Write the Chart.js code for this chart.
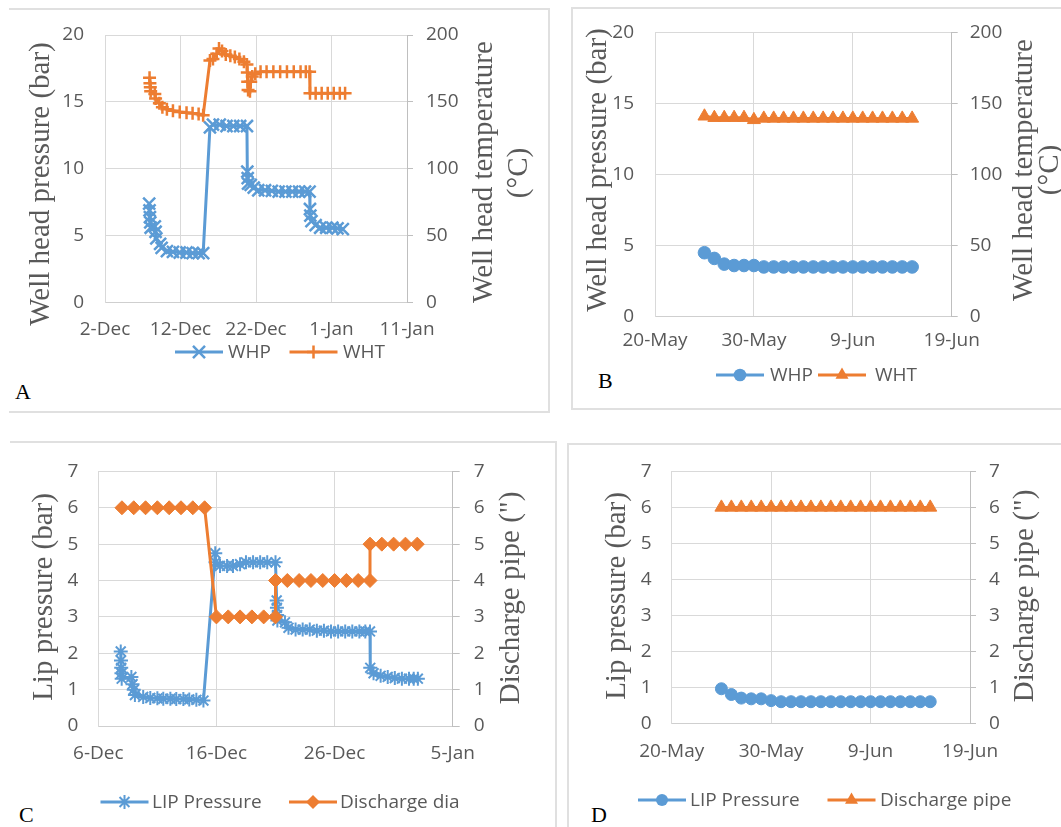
<!DOCTYPE html>
<html><head><meta charset="utf-8">
<script src="https://cdn.jsdelivr.net/npm/chart.js@4.4.0/dist/chart.umd.min.js"></script>
<style>
html,body{margin:0;padding:0;background:#fff;width:1061px;height:827px;overflow:hidden;position:relative;}
canvas{position:absolute;}
.frame{position:absolute;border:0 solid #E0E0E0;box-sizing:border-box;}
.lab{position:absolute;font-family:"Liberation Serif",serif;font-size:22px;color:#000;line-height:22px;}
</style></head><body>
<div class="frame" style="left:9px;top:8px;width:541px;height:405px;border-top-width:2px;border-right-width:2px;border-bottom-width:2px"></div>
<div class="frame" style="left:571px;top:7px;width:500px;height:403px;border-top-width:2px;border-left-width:2px;border-bottom-width:2px"></div>
<div class="frame" style="left:10px;top:441px;width:547px;height:400px;border-top-width:2px;border-right-width:2px"></div>
<div class="frame" style="left:567px;top:443px;width:500px;height:400px;border-top-width:2px;border-left-width:2px"></div>
<div class="lab" style="left:15px;top:381px">A</div>
<div class="lab" style="left:598px;top:370px">B</div>
<div class="lab" style="left:19px;top:804px">C</div>
<div class="lab" style="left:591px;top:804px">D</div>
<script>
// ---------- data (x values are day numbers: Dec 1 = 1, Jan 1 = 32; May 1 = 1, Jun 1 = 32) ----------
// Panel A
const A_X_TICKS = [2, 12, 22, 32, 42];
const A_X_LABELS = ['2-Dec', '12-Dec', '22-Dec', '1-Jan', '11-Jan'];
const A_WHP_DAY = [7.85, 7.9, 7.95, 8.0, 8.05, 8.6, 8.7, 8.8, 9.3, 9.5, 10.2, 11.0, 11.9, 12.8, 13.6, 14.4, 15.0,
  15.9, 16.3, 17.2, 18.1, 19.0, 19.9, 20.8, 20.85, 20.9, 20.95, 21.3, 21.7, 22.3, 23.2, 24.1, 25.0, 25.9, 26.8, 27.7, 28.5, 29.1,
  29.15, 29.2, 29.35, 29.9, 30.5, 31.3, 32.1, 32.8, 33.5];
const A_WHP = [7.4, 6.9, 6.4, 6.0, 5.6, 5.7, 5.3, 4.8, 4.4, 4.1, 3.85, 3.8, 3.75, 3.75, 3.7, 3.7, 3.7,
  13.1, 13.3, 13.3, 13.2, 13.2, 13.2, 13.2, 9.8, 9.3, 8.9, 8.8, 8.6, 8.4, 8.4, 8.35, 8.3, 8.3, 8.3, 8.3, 8.3, 8.3,
  7.0, 6.5, 6.1, 5.8, 5.6, 5.6, 5.6, 5.55, 5.5];
const A_WHT_DAY = [7.9, 7.95, 8.0, 8.05, 8.6, 8.7, 9.2, 9.6, 10.2, 11.0, 11.9, 12.8, 13.6, 14.4, 15.0,
  15.9, 16.3, 16.8, 17.1, 17.5, 18.0, 18.6, 19.2, 19.8, 20.4, 20.8, 20.85, 20.9, 20.95, 21.2, 21.3, 21.5, 21.9,
  22.6, 23.4, 24.3, 25.2, 26.1, 27.0, 27.9, 28.6, 29.1, 29.15, 29.9, 30.7, 31.5, 32.3, 33.1, 33.8];
const A_WHT = [168, 164, 161, 158, 156, 152.5, 149, 146, 144.5, 143.5, 142.5, 142, 141.5, 141, 140,
  181, 182, 186, 190, 188, 185.5, 184.5, 183.5, 182, 180, 178, 172, 165, 159, 158, 165, 169, 171,
  172.5, 172.5, 172.5, 172.5, 172.5, 172.5, 172.5, 172.5, 172.5, 156.5, 156.5, 156.5, 156.5, 156.5, 156.5, 156.5];
// Panel B
const B_X_TICKS = [20, 30, 40, 50];
const B_X_LABELS = ['20-May', '30-May', '9-Jun', '19-Jun'];
const B_DAY = [25, 26, 27, 28, 29, 30, 31, 32, 33, 34, 35, 36, 37, 38, 39, 40, 41, 42, 43, 44, 45, 46];
const B_WHP = [4.5, 4.1, 3.7, 3.6, 3.6, 3.6, 3.5, 3.5, 3.5, 3.5, 3.5, 3.5, 3.5, 3.5, 3.5, 3.5, 3.5, 3.5, 3.5, 3.5, 3.5, 3.5];
const B_WHT = [141, 140, 140, 140, 140, 138.5, 139.5, 139.5, 139.5, 139.5, 139.5, 139.5, 139.5, 139.5, 139.5, 139.5, 139.5, 139.5, 139.5, 139.5, 139.5, 139.5];
// Panel C
const C_X_TICKS = [6, 16, 26, 36];
const C_X_LABELS = ['6-Dec', '16-Dec', '26-Dec', '5-Jan'];
const C_LIP_DAY = [7.9, 7.92, 7.94, 7.96, 7.98, 8.8, 8.9, 9.0, 9.1, 9.8, 10.4, 11.0, 11.5, 12.1, 12.6, 13.2, 13.7, 14.3, 14.9,
  15.9, 15.92, 16.3, 16.9, 17.4, 18.0, 18.5, 19.1, 19.7, 20.3, 21.0, 21.1, 21.12, 21.14, 21.16,
  21.8, 22.1, 22.7, 23.3, 23.9, 24.5, 25.1, 25.7, 26.3, 26.9, 27.5, 28.1, 28.6, 29.0,
  29.02, 29.3, 29.9, 30.5, 31.1, 31.7, 32.3, 32.7, 33.05];
const C_LIP = [2.05, 1.8, 1.6, 1.45, 1.3, 1.35, 1.15, 1.0, 0.85, 0.8, 0.77, 0.76, 0.75, 0.75, 0.74, 0.74, 0.73, 0.72, 0.7,
  4.75, 4.5, 4.4, 4.4, 4.4, 4.45, 4.5, 4.5, 4.5, 4.5, 4.5, 3.45, 3.25, 3.05, 2.9,
  2.85, 2.7, 2.65, 2.65, 2.65, 2.62, 2.62, 2.6, 2.6, 2.6, 2.6, 2.6, 2.6, 2.6,
  1.6, 1.45, 1.38, 1.35, 1.32, 1.3, 1.3, 1.3, 1.3];
const C_DIS_DAY = [8, 9, 10, 11, 12, 13, 14, 15, 16, 17, 18, 19, 20, 21, 21, 22, 23, 24, 25, 26, 27, 28, 29, 29, 30, 31, 32, 33];
const C_DIS = [6, 6, 6, 6, 6, 6, 6, 6, 3, 3, 3, 3, 3, 3, 4, 4, 4, 4, 4, 4, 4, 4, 4, 5, 5, 5, 5, 5];
// Panel D
const D_X_TICKS = [20, 30, 40, 50];
const D_X_LABELS = ['20-May', '30-May', '9-Jun', '19-Jun'];
const D_DAY = [25, 26, 27, 28, 29, 30, 31, 32, 33, 34, 35, 36, 37, 38, 39, 40, 41, 42, 43, 44, 45, 46];
const D_LIP = [0.96, 0.8, 0.7, 0.68, 0.68, 0.63, 0.6, 0.6, 0.6, 0.6, 0.6, 0.6, 0.6, 0.6, 0.6, 0.6, 0.6, 0.6, 0.6, 0.6, 0.6, 0.6];
const D_DIS = [6, 6, 6, 6, 6, 6, 6, 6, 6, 6, 6, 6, 6, 6, 6, 6, 6, 6, 6, 6, 6, 6];

// ---------- styling ----------
const BLUE = '#5B9BD5', ORANGE = '#ED7D31', GRID = '#D9D9D9', AXIS = '#BFBFBF', TXT = '#595959';
const SANS = '"Open Sans"';
const TICK_FONT = {family: SANS, size: 19};
Chart.defaults.font.family = SANS;

function pts(xs, ys) { return xs.map((x, i) => ({x: x, y: ys[i]})); }

function drawMarker(g, style, x, y, r, color, bw) {
  g.save(); g.strokeStyle = color; g.fillStyle = color; g.lineWidth = bw; g.beginPath();
  const k = Math.SQRT1_2 * r;
  if (style === 'cross' || style === 'star') { g.moveTo(x - r, y); g.lineTo(x + r, y); g.moveTo(x, y - r); g.lineTo(x, y + r); }
  if (style === 'crossRot' || style === 'star') { g.moveTo(x - k, y - k); g.lineTo(x + k, y + k); g.moveTo(x - k, y + k); g.lineTo(x + k, y - k); }
  if (style === 'cross' || style === 'crossRot' || style === 'star') { g.stroke(); }
  else if (style === 'rectRot') { g.moveTo(x - r, y); g.lineTo(x, y - r); g.lineTo(x + r, y); g.lineTo(x, y + r); g.closePath(); g.fill(); }
  else if (style === 'circle') { g.arc(x, y, r, 0, Math.PI * 2); g.fill(); }
  else if (style === 'triangle') { g.moveTo(x, y - r); g.lineTo(x + 0.866 * r, y + 0.5 * r); g.lineTo(x - 0.866 * r, y + 0.5 * r); g.closePath(); g.fill(); }
  g.restore();
}

function makeChart(cfg) {
  const cv = document.createElement('canvas');
  cv.width = cfg.w; cv.height = cfg.h;
  cv.style.left = cfg.left + 'px'; cv.style.top = cfg.top + 'px';
  cv.style.width = cfg.w + 'px'; cv.style.height = cfg.h + 'px';
  document.body.appendChild(cv);
  const filled = m => (m === 'circle' || m === 'triangle' || m === 'rectRot');
  const datasets = cfg.series.map(s => ({
    label: s.label, data: pts(s.xs, s.ys), yAxisID: s.axis,
    borderColor: s.color, backgroundColor: s.color, borderWidth: 3,
    pointStyle: s.marker, pointRadius: s.r, pointHoverRadius: s.r,
    pointBorderWidth: filled(s.marker) ? 1 : s.pbw,
    pointBackgroundColor: s.color, pointBorderColor: s.color,
    tension: 0, order: s.order
  }));
  const decoPlugin = {
    id: 'deco',
    afterDraw(chart) {
      const ctx = chart.ctx;
      ctx.save();
      // axis titles (both read bottom-to-top, as in the reference)
      ctx.fillStyle = TXT; ctx.font = '29px "Liberation Serif"';
      ctx.textAlign = 'center'; ctx.textBaseline = 'middle';
      cfg.titles.forEach(t => {
        ctx.save(); ctx.translate(t.x, t.y); ctx.rotate(-Math.PI / 2); ctx.fillText(t.text, 0, 0); ctx.restore();
      });
      // legend: line + marker sample, then the series name
      ctx.font = '19px ' + SANS; ctx.textAlign = 'left';
      chart.data.datasets.forEach((d, i) => {
        const s = cfg.series[i], p = cfg.legend[i], y = cfg.legendY;
        ctx.save();
        ctx.strokeStyle = s.color; ctx.lineWidth = 3;
        ctx.beginPath(); ctx.moveTo(p.ix - 24, y); ctx.lineTo(p.ix + 24, y); ctx.stroke();
        ctx.restore();
        drawMarker(ctx, s.marker, p.ix, y, s.r, s.color, s.pbw);
        ctx.fillStyle = TXT;
        ctx.fillText(d.label, p.tx, y + 1);
      });
      ctx.restore();
    }
  };
  return new Chart(cv, {
    type: 'line',
    data: {datasets: datasets},
    options: {
      responsive: false, animation: false, devicePixelRatio: 1,
      layout: {padding: cfg.pad},
      plugins: {tooltip: {enabled: false}, legend: {display: false}},
      scales: {
        x: {
          type: 'linear', min: cfg.xTicks[0], max: cfg.xTicks[cfg.xTicks.length - 1],
          afterBuildTicks: sc => { sc.ticks = cfg.xTicks.map(v => ({value: v})); },
          ticks: {
            maxRotation: 0, autoSkip: false, padding: cfg.xPad, font: TICK_FONT, color: TXT,
            callback: v => { const i = cfg.xTicks.indexOf(v); return i >= 0 ? cfg.xLabels[i] : ''; }
          },
          grid: {color: GRID, drawTicks: false},
          border: {color: '#CFCFCF'},
          afterFit: sc => { sc.height = 45; }
        },
        y: {
          position: 'left', min: 0, max: cfg.yMax,
          ticks: {stepSize: cfg.yStep, padding: cfg.lPad, font: TICK_FONT, color: TXT},
          grid: {color: GRID, drawTicks: false},
          border: {color: GRID},
          afterFit: sc => { sc.width = cfg.lw; }
        },
        y2: {
          position: 'right', min: 0, max: cfg.y2Max,
          ticks: {stepSize: cfg.y2Step, padding: cfg.rPad, font: TICK_FONT, color: TXT},
          grid: {drawOnChartArea: false, color: AXIS, tickLength: cfg.tl},
          border: {color: AXIS},
          afterFit: sc => { sc.width = cfg.rw; }
        }
      }
    },
    plugins: [decoPlugin]
  });
}

// Panel A  (plot area 105..407 x 35..302.7)
makeChart({
  left: 0, top: 0, w: 560, h: 380,
  pad: {left: 0, right: 0, top: 35, bottom: 32.3},
  lw: 105, rw: 153, xPad: 15, lPad: 21, rPad: 13, tl: 6,
  xTicks: A_X_TICKS, xLabels: A_X_LABELS, yMax: 20, yStep: 5, y2Max: 200, y2Step: 50,
  series: [
    {label: 'WHP', xs: A_WHP_DAY, ys: A_WHP, axis: 'y', color: BLUE, marker: 'crossRot', r: 8.5, pbw: 2.5, order: 1},
    {label: 'WHT', xs: A_WHT_DAY, ys: A_WHT, axis: 'y2', color: ORANGE, marker: 'cross', r: 6.5, pbw: 2.5, order: 0}
  ],
  legendY: 352, legend: [{ix: 199, tx: 228}, {ix: 313.5, tx: 343}],
  titles: [
    {text: 'Well head pressure (bar)', x: 41, y: 184},
    {text: 'Well head temperature', x: 484, y: 172},
    {text: '(°C)', x: 519, y: 173}
  ]
});

// Panel B  (plot area 655..951.7 x 25.7..316.7)
makeChart({
  left: 572, top: 0, w: 489, h: 400,
  pad: {left: 0, right: 0, top: 25.7, bottom: 38.3},
  lw: 83, rw: 109.3, xPad: 12, lPad: 21, rPad: 12, tl: 6,
  xTicks: B_X_TICKS, xLabels: B_X_LABELS, yMax: 20, yStep: 5, y2Max: 200, y2Step: 50,
  series: [
    {label: 'WHP', xs: B_DAY, ys: B_WHP, axis: 'y', color: BLUE, marker: 'circle', r: 6.3, pbw: 1, order: 1},
    {label: 'WHT', xs: B_DAY, ys: B_WHT, axis: 'y2', color: ORANGE, marker: 'triangle', r: 7.5, pbw: 1, order: 0}
  ],
  legendY: 375, legend: [{ix: 168, tx: 198}, {ix: 270, tx: 303}],
  titles: [
    {text: 'Well head pressure (bar)', x: 26, y: 170},
    {text: 'Well head temperature', x: 452, y: 170},
    {text: '(°C)', x: 478, y: 170}
  ]
});

// Panel C  (plot area 98.3..452.7 x 469.3..726)
makeChart({
  left: 0, top: 440, w: 558, h: 387,
  pad: {left: 0, right: 0, top: 29.3, bottom: 56},
  lw: 98.3, rw: 105.3, xPad: 16, lPad: 20, rPad: 14, tl: 7,
  xTicks: C_X_TICKS, xLabels: C_X_LABELS, yMax: 7, yStep: 1, y2Max: 7, y2Step: 1,
  series: [
    {label: 'LIP Pressure', xs: C_LIP_DAY, ys: C_LIP, axis: 'y', color: BLUE, marker: 'star', r: 7, pbw: 2, order: 1},
    {label: 'Discharge dia', xs: C_DIS_DAY, ys: C_DIS, axis: 'y2', color: ORANGE, marker: 'rectRot', r: 7, pbw: 1, order: 0}
  ],
  legendY: 362, legend: [{ix: 124.5, tx: 152}, {ix: 313, tx: 340}],
  titles: [
    {text: 'Lip pressure (bar)', x: 44, y: 157},
    {text: 'Discharge pipe (")', x: 511, y: 158}
  ]
});

// Panel D  (plot area 671.7..970 x 470..723.3)
makeChart({
  left: 568, top: 440, w: 493, h: 387,
  pad: {left: 17, right: 0, top: 30, bottom: 58.7},
  lw: 86.7, rw: 91, xPad: 17, lPad: 20, rPad: 13, tl: 6,
  xTicks: D_X_TICKS, xLabels: D_X_LABELS, yMax: 7, yStep: 1, y2Max: 7, y2Step: 1,
  series: [
    {label: 'LIP Pressure', xs: D_DAY, ys: D_LIP, axis: 'y', color: BLUE, marker: 'circle', r: 6, pbw: 1, order: 1},
    {label: 'Discharge pipe', xs: D_DAY, ys: D_DIS, axis: 'y2', color: ORANGE, marker: 'triangle', r: 7.5, pbw: 1, order: 0}
  ],
  legendY: 360, legend: [{ix: 94, tx: 122}, {ix: 283.5, tx: 312}],
  titles: [
    {text: 'Lip pressure (bar)', x: 49, y: 156},
    {text: 'Discharge pipe (")', x: 457, y: 156}
  ]
});
</script>
</body></html>
